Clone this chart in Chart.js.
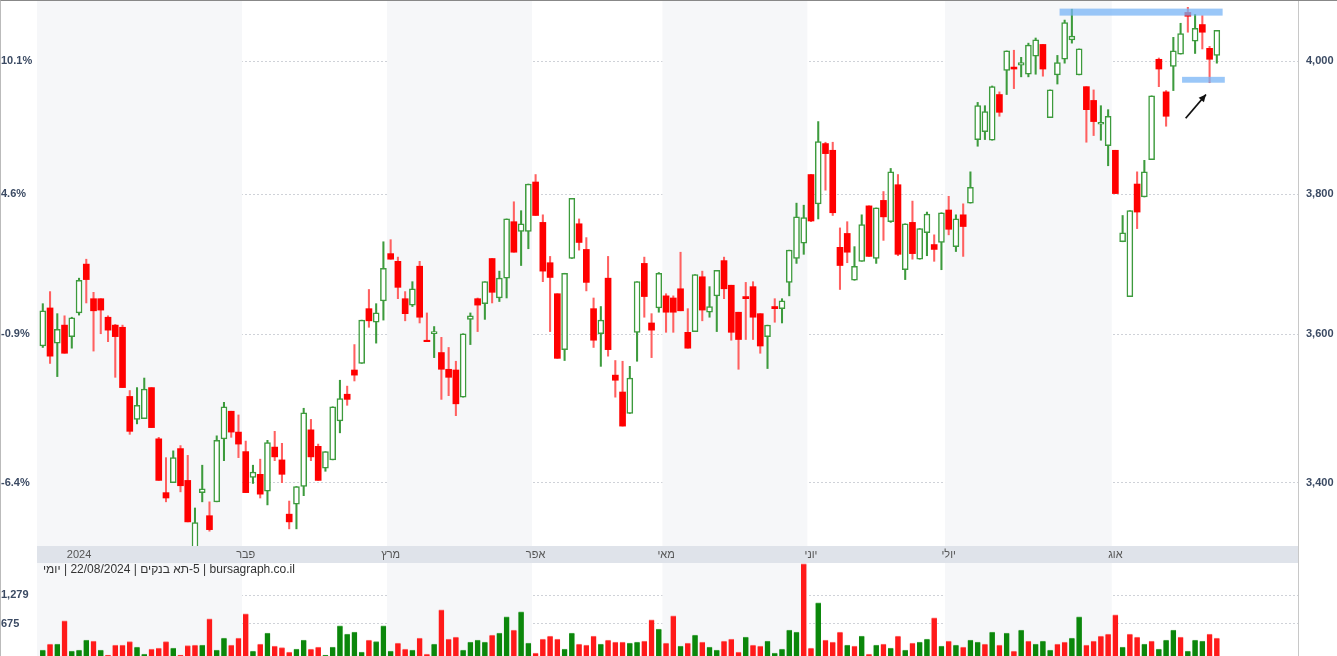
<!DOCTYPE html>
<html><head><meta charset="utf-8">
<script src="https://cdn.jsdelivr.net/npm/chart.js@4.4.1/dist/chart.umd.min.js"></script>
<style>
html,body{margin:0;padding:0;background:#fff;}
#wrap{position:relative;width:1337px;height:656px;overflow:hidden;box-sizing:border-box;border-top:1px solid #888;border-left:1px solid #bbb;}
#pc{position:absolute;left:0;top:0;}
#vc{position:absolute;left:0;top:562px;}
</style></head><body>
<div id="wrap">
<canvas id="pc" width="1337" height="562"></canvas>
<canvas id="vc" width="1337" height="94"></canvas>
</div>
<script>
const months=['2024','פבר','מרץ','אפר','מאי','יוני','יולי','אוג'];
const monthStart=[0,28,48,68,86,106,125,148];
const priceTicks=[3400,3600,3800,4000];
const pctTicks=['-6.4%','-0.9%','4.6%','10.1%'];
const volTicks=[675,1279];
const captionParts=['יומי',' | 22/08/2024 | ','תא בנקים','-5',' | bursagraph.co.il'];
const open=[3584,3637,3588,3613,3597,3630,3699,3650,3650,3624,3613,3610,3515,3484,3485,3527,3458,3387,3400,3445,3403,3312,3387,3357,3375,3458,3495,3467,3441,3407,3411,3389,3447,3430,3359,3372,3395,3470,3448,3419,3430,3482,3518,3551,3560,3636,3617,3647,3714,3703,3650,3641,3696,3592,3601,3575,3552,3551,3514,3621,3650,3643,3707,3651,3679,3760,3746,3746,3818,3759,3701,3657,3579,3707,3757,3720,3636,3601,3679,3544,3521,3492,3603,3700,3616,3637,3654,3651,3664,3603,3604,3681,3631,3654,3704,3669,3631,3653,3667,3629,3597,3639,3636,3673,3707,3729,3829,3786,3875,3865,3723,3743,3676,3703,3783,3707,3791,3760,3814,3691,3759,3706,3744,3727,3730,3777,3724,3770,3787,3881,3893,3880,3949,3986,3991,3994,3980,4008,4026,3914,3979,4003,4033,3979,3961,3940,3904,3872,3865,3731,3653,3815,3796,3851,4003,3953,3992,4011,4076,4031,4057,4020,4009];
const high=[3643,3660,3629,3626,3624,3679,3706,3659,3650,3626,3614,3613,3523,3527,3540,3527,3460,3433,3442,3449,3436,3367,3423,3375,3462,3507,3495,3490,3455,3423,3431,3456,3468,3452,3376,3395,3499,3484,3451,3441,3501,3537,3529,3586,3620,3663,3643,3731,3734,3709,3660,3674,3703,3630,3611,3596,3582,3563,3601,3630,3651,3674,3707,3689,3764,3789,3776,3815,3829,3770,3710,3657,3686,3794,3764,3737,3651,3639,3710,3564,3563,3556,3674,3709,3629,3687,3657,3654,3716,3636,3684,3689,3667,3690,3709,3669,3631,3673,3674,3629,3613,3650,3650,3719,3787,3784,3829,3908,3877,3877,3751,3760,3724,3770,3783,3780,3804,3838,3829,3757,3790,3750,3774,3741,3773,3797,3770,3786,3833,3937,3932,3962,3953,4016,4017,4006,4028,4036,4026,3956,4009,4064,4081,4019,3961,3956,3932,3926,3865,3769,3776,3833,3850,3947,4005,3955,4037,4059,4084,4073,4071,4023,4048];
const low=[3582,3560,3542,3574,3581,3627,3644,3577,3601,3590,3541,3527,3464,3478,3485,3473,3403,3375,3400,3388,3349,3312,3375,3337,3375,3429,3460,3433,3387,3399,3380,3371,3429,3400,3340,3340,3383,3429,3403,3415,3430,3466,3503,3536,3560,3610,3588,3620,3706,3650,3619,3639,3616,3590,3568,3511,3516,3489,3514,3586,3604,3621,3644,3646,3651,3716,3697,3721,3769,3674,3604,3567,3564,3707,3719,3661,3582,3556,3570,3514,3475,3492,3563,3624,3568,3631,3603,3603,3633,3581,3604,3619,3624,3604,3650,3592,3552,3593,3593,3574,3553,3617,3616,3654,3700,3713,3760,3764,3806,3769,3663,3701,3676,3703,3710,3700,3733,3759,3711,3677,3706,3706,3711,3703,3691,3741,3717,3710,3787,3871,3881,3880,3916,3949,3958,3976,3976,3980,3977,3914,3965,3997,4028,3979,3877,3887,3880,3842,3801,3731,3653,3750,3796,3851,3961,3901,3955,4011,4045,4012,4019,3967,3997];
const close=[3633,3570,3607,3574,3623,3676,3677,3633,3634,3606,3597,3527,3468,3503,3525,3473,3403,3380,3433,3396,3349,3348,3392,3339,3456,3501,3467,3451,3387,3414,3385,3453,3434,3411,3349,3395,3493,3434,3403,3441,3501,3512,3511,3544,3620,3619,3630,3693,3706,3666,3629,3664,3624,3590,3604,3552,3541,3505,3601,3626,3641,3674,3659,3679,3764,3716,3757,3815,3769,3689,3680,3567,3686,3794,3730,3673,3592,3620,3579,3537,3475,3540,3674,3653,3606,3686,3631,3631,3633,3581,3684,3634,3639,3690,3664,3603,3593,3650,3624,3584,3613,3636,3647,3719,3767,3766,3761,3878,3860,3773,3697,3716,3696,3756,3710,3780,3767,3833,3713,3757,3714,3750,3771,3720,3773,3749,3764,3753,3810,3932,3923,3961,3922,4016,3988,3998,4025,4033,3988,3956,3998,4060,4039,4019,3926,3908,3907,3916,3801,3744,3776,3774,3833,3947,3988,3916,4016,4043,4070,4051,4045,4003,4048];
const volume=[126,252,252,735,105,126,336,315,126,21,231,231,301,189,42,147,168,301,168,21,217,231,231,777,126,378,231,378,882,105,252,483,210,175,84,147,336,147,189,21,189,630,462,504,84,336,301,630,105,273,147,126,378,42,252,966,357,399,126,294,336,294,441,483,819,546,924,273,63,357,420,357,147,483,252,231,420,252,336,294,294,273,294,315,756,567,273,840,210,273,441,294,189,126,315,357,84,399,231,210,315,63,147,546,504,1932,168,1113,336,294,504,231,210,420,42,231,252,168,420,126,273,294,357,798,210,315,231,189,336,294,252,504,231,483,105,546,315,252,315,126,252,294,378,819,231,315,420,462,861,189,462,399,252,315,147,336,546,399,105,336,315,462,378];
const volUp=[1,0,1,0,1,1,1,0,1,0,0,0,0,1,1,0,0,0,1,0,0,0,1,0,1,1,0,0,0,1,0,1,0,0,0,1,1,0,0,1,1,1,1,1,1,0,1,1,1,0,0,1,0,0,1,0,0,0,1,1,1,1,0,1,1,0,1,1,0,0,0,0,1,1,0,0,0,1,0,0,0,1,1,0,0,1,0,0,1,0,1,0,1,1,0,0,0,1,0,0,1,1,1,1,1,0,0,1,0,0,0,1,0,1,0,1,0,1,0,1,0,1,1,0,1,0,1,0,1,1,0,1,0,1,0,1,0,1,1,1,0,0,1,1,0,0,0,0,0,1,0,0,1,0,1,1,1,0,1,1,1,0,0,0,1];
// highlight annotations (index / price units)
const bandTop={x0:140.3,x1:162.8,y0:4082,y1:4071};
const bandLow={x0:157.2,x1:163.1,y0:3976,y1:3967};
const arrow={x0:157.7,y0:3913,x1:160.5,y1:3949};

const N=open.length;
const up=open.map((o,i)=>close[i]>=o);
const GREEN='#3d9b3d', RED='#ff0000';
const XMIN=-0.8, XMAX=173.2;
const LEFTW=36, RIGHTW=40;
const axisFont={family:'Arial, Liberation Sans, sans-serif',size:11,weight:'bold'};
const gridDash={display:false,dash:[2,2]};

const bgPlugin={id:'bg',beforeDatasetsDraw(c){
  const {ctx,chartArea:a,scales:{x}}=c;
  ctx.save();
  ctx.fillStyle='#f6f7f9';
  for(let m=0;m<monthStart.length;m+=2){
    const x0=m===0?x.getPixelForValue(-0.8):x.getPixelForValue(monthStart[m]-0.5);
    const x1=m+1<monthStart.length?x.getPixelForValue(monthStart[m+1]-0.5):a.right;
    ctx.fillRect(x0,a.top,x1-x0,a.bottom-a.top+(c.canvas.id==='vc'?0:17));
  }
  ctx.restore();
},beforeDraw(c){
  if(c.canvas.id!=='pc')return;
  const {ctx}=c;
  ctx.save();
  ctx.fillStyle='rgba(170,160,230,0.28)';
  ctx.font='bold 22px Arial, Liberation Sans, sans-serif';
  ctx.fillText('SPONSER',50,551);
  ctx.restore();
},afterDraw(c){
  const {ctx,chartArea:a}=c;
  ctx.save();
  ctx.strokeStyle='#c8c8c8';ctx.lineWidth=1;
  ctx.beginPath();ctx.moveTo(a.right+0.5,0);ctx.lineTo(a.right+0.5,c.height);ctx.stroke();
  if(c.canvas.id==='vc'){
    ctx.fillStyle='#333';ctx.font='12px Arial, Liberation Sans, sans-serif';
    ctx.textAlign='left';ctx.textBaseline='middle';ctx.direction='ltr';
    let px=42;
    captionParts.forEach(p=>{ctx.fillText(p,px,7);px+=ctx.measureText(p).width;});
  }
  ctx.restore();
}};
const monthPlugin={id:'mb',afterDraw(c){
  const {ctx,chartArea:a,scales:{x,y}}=c;
  ctx.save();
  const top=a.bottom;
  const left=x.getPixelForValue(-0.8);
  ctx.fillStyle='#dfe3ea';
  ctx.fillRect(left,top,a.right-left,17);
  ctx.fillStyle='#555';
  ctx.font='11px Arial, Liberation Sans, sans-serif';
  ctx.textAlign='center';ctx.textBaseline='middle';
  months.forEach((m,i)=>{
    const px=i===0?x.getPixelForValue(5):x.getPixelForValue(monthStart[i]);
    ctx.fillText(m,px,top+9);
  });
  ctx.fillStyle='rgba(120,180,245,0.75)';
  [bandTop,bandLow].forEach(b=>{
    const x0=x.getPixelForValue(b.x0),x1=x.getPixelForValue(b.x1);
    const y0=y.getPixelForValue(b.y0),y1=y.getPixelForValue(b.y1);
    ctx.fillRect(x0,y0,x1-x0,y1-y0);
  });
  const ax0=x.getPixelForValue(arrow.x0),ay0=y.getPixelForValue(arrow.y0);
  const ax1=x.getPixelForValue(arrow.x1),ay1=y.getPixelForValue(arrow.y1);
  ctx.strokeStyle='#111';ctx.fillStyle='#111';ctx.lineWidth=1.8;
  ctx.beginPath();ctx.moveTo(ax0,ay0);ctx.lineTo(ax1,ay1);ctx.stroke();
  const ang=Math.atan2(ay1-ay0,ax1-ax0);
  ctx.beginPath();ctx.moveTo(ax1,ay1);
  ctx.lineTo(ax1-8*Math.cos(ang-0.45),ay1-8*Math.sin(ang-0.45));
  ctx.lineTo(ax1-8*Math.cos(ang+0.45),ay1-8*Math.sin(ang+0.45));
  ctx.closePath();ctx.fill();
  ctx.restore();
}};

const idx=[...Array(N).keys()];
new Chart(document.getElementById('pc'),{
  type:'bar',
  data:{datasets:[
    {data:idx.map(i=>({x:i,y:[low[i],high[i]]})),backgroundColor:idx.map(i=>up[i]?GREEN:'#ff6060'),barThickness:1.4,grouped:false,order:2},
    {data:idx.map(i=>({x:i,y:[open[i],close[i]]})),backgroundColor:idx.map(i=>up[i]?'#ffffff':RED),borderColor:idx.map(i=>up[i]?GREEN:RED),borderWidth:idx.map(i=>up[i]?1.5:0),borderSkipped:false,barThickness:6,grouped:false,order:1}
  ]},
  options:{responsive:false,animation:false,events:[],
    layout:{padding:{top:-6,bottom:17}},
    plugins:{legend:{display:false},tooltip:{enabled:false}},
    scales:{
      x:{type:'linear',offset:false,min:XMIN,max:XMAX,display:false,grid:{display:false}},
      y:{type:'logarithmic',position:'right',min:3318,max:4094,
        afterBuildTicks(s){s.ticks=priceTicks.map(v=>({value:v}));},
        afterFit(s){s.width=RIGHTW;s.paddingTop=0;s.paddingBottom=0;},
        ticks:{callback:v=>v.toLocaleString('en-US'),font:axisFont,color:'#3b4a63',padding:0},
        grid:{display:false},border:{display:false}},
      yl:{type:'logarithmic',position:'left',min:3318,max:4094,
        afterBuildTicks(s){s.ticks=priceTicks.map(v=>({value:v}));},
        afterFit(s){s.width=LEFTW;s.paddingTop=0;s.paddingBottom=0;},
        ticks:{callback:v=>pctTicks[priceTicks.indexOf(v)],font:axisFont,color:'#3b4a63',crossAlign:'far',padding:4},
        grid:{color:'#cfd2d8',drawTicks:false,lineWidth:1},border:gridDash}
    }},
  plugins:[bgPlugin,monthPlugin]
});

new Chart(document.getElementById('vc'),{
  type:'bar',
  data:{datasets:[{data:idx.map(i=>({x:i,y:volume[i]})),backgroundColor:idx.map(i=>volUp[i]?'#0b870b':'#ff1a1a'),borderColor:idx.map(i=>volUp[i]?'#4caa4c':'#ff7070'),borderWidth:{top:1,left:0,right:0,bottom:0},barThickness:5.5}]},
  options:{responsive:false,animation:false,events:[],
    layout:{padding:{top:0,bottom:1}},
    plugins:{legend:{display:false},tooltip:{enabled:false}},
    scales:{
      x:{type:'linear',offset:false,min:XMIN,max:XMAX,display:false},
      y:{position:'left',min:0,max:1950,
        afterBuildTicks(s){s.ticks=volTicks.map(v=>({value:v}));},
        afterFit(s){s.width=LEFTW;s.paddingTop=0;s.paddingBottom=0;},
        ticks:{callback:v=>v.toLocaleString('en-US'),font:axisFont,color:'#3b4a63',crossAlign:'far',padding:4},
        grid:{color:'#cfd2d8',drawTicks:false},border:gridDash},
      yr:{position:'right',min:0,max:1950,afterFit(s){s.width=RIGHTW;s.paddingTop=0;s.paddingBottom=0;},ticks:{display:false},grid:{display:false},border:{display:false}}
    }},
  plugins:[bgPlugin]
});
</script>
</body></html>
